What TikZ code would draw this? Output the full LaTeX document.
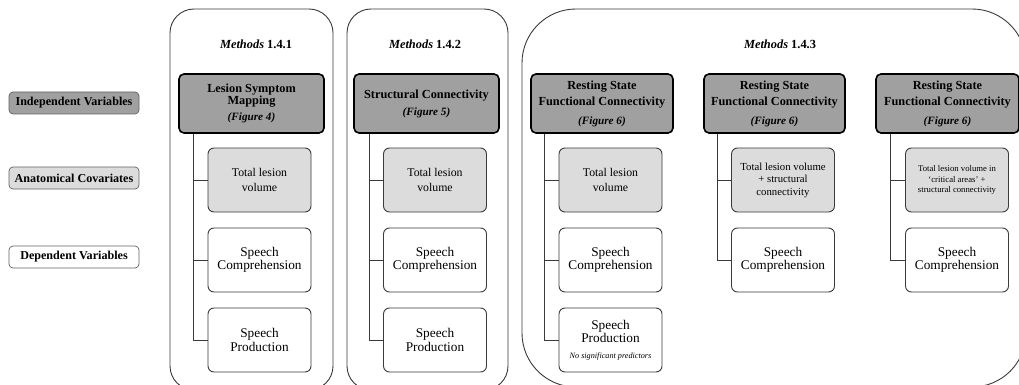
\documentclass[tikz,border=0pt]{standalone}
\usepackage{fontspec}
\setmainfont{Liberation Serif}
\definecolor{darkfill}{HTML}{A0A0A0}
\definecolor{lightfill}{HTML}{DCDCDC}
\definecolor{edgegray}{HTML}{3A3A3A}
\begin{document}
\begin{tikzpicture}[x=1pt,y=-1pt,
  panel/.style={draw=edgegray, line width=0.9pt},
  hdr/.style={draw=black, line width=1.6pt, fill=darkfill, rounded corners=5pt,
    minimum height=59pt, align=center, inner sep=0pt},
  cov/.style={draw=edgegray, line width=0.9pt, fill=lightfill, rounded corners=6pt,
    minimum width=103pt, minimum height=64pt, align=center, inner sep=0pt},
  dep/.style={draw=edgegray, line width=0.9pt, fill=white, rounded corners=6pt,
    minimum width=103pt, minimum height=64pt, align=center, inner sep=0pt,
    font=\rmfamily\fontsize{13.3}{13.3}\selectfont},
  leg/.style={draw=edgegray!80, line width=0.7pt, rounded corners=4pt,
    minimum width=130pt, minimum height=22pt, inner sep=0pt,
    font=\rmfamily\fontsize{12.1}{13}\selectfont\bfseries},
  meth/.style={font=\rmfamily\fontsize{12.4}{13}\selectfont\bfseries},
  conn/.style={draw=edgegray, line width=0.9pt}
]
\useasboundingbox (0,0) rectangle (1019,385);
\clip (0,0) rectangle (1019,385);
\fill[white] (0,0) rectangle (1019,385);

% legend
\node[leg, fill=darkfill] (l1) at (74,103) {Independent Variables};
\node[leg, fill=lightfill] (l2) at (74,178) {Anatomical Covariates};
\node[leg, fill=white] (l3) at (74,257) {Dependent Variables};

% panels
\draw[panel, rounded corners=24pt] (170,9) rectangle (333,390);
\draw[panel, rounded corners=24pt] (347,9) rectangle (508,390);
\draw[panel, rounded corners=54pt] (522,9) rectangle (1026,387);

\node[meth] (m1) at (256,44) {\textit{Methods} 1.4.1};
\node[meth] (m2) at (425,44) {\textit{Methods} 1.4.2};
\node[meth] (m3) at (780,44) {\textit{Methods} 1.4.3};

% Panel 1
\node[hdr, minimum width=145pt, font=\rmfamily\bfseries\fontsize{12.3}{10.5}\selectfont] (h1) at (251.5,103.5)
  {Lesion Symptom\\Mapping\\[6pt]{\fontsize{11.2}{12}\selectfont\itshape (Figure 4)}};
\node[cov, font=\rmfamily\fontsize{11.8}{14.7}\selectfont] (a1) at (259.5,180) {Total lesion\\volume};
\node[dep] (b1) at (259.5,260) {Speech\\Comprehension};
\node[dep] (c1) at (259.5,340) {Speech\\Production};
\path (h1.south west) ++(15,0) coordinate (v1);
\draw[conn] (v1) |- (a1.west);
\draw[conn] (v1) |- (b1.west);
\draw[conn] (v1) |- (c1.west);

% Panel 2
\node[hdr, minimum width=145pt, font=\rmfamily\bfseries\fontsize{12.3}{14}\selectfont] (h2) at (426.5,103.5)
  {Structural Connectivity\\[3pt]{\fontsize{11.2}{12}\selectfont\itshape (Figure 5)}};
\node[cov, font=\rmfamily\fontsize{11.8}{14.7}\selectfont] (a2) at (435,180) {Total lesion\\volume};
\node[dep] (b2) at (435,260) {Speech\\Comprehension};
\node[dep] (c2) at (435,340) {Speech\\Production};
\path (h2.south west) ++(16,0) coordinate (v2);
\draw[conn] (v2) |- (a2.west);
\draw[conn] (v2) |- (b2.west);
\draw[conn] (v2) |- (c2.west);

% Panel 3a
\node[hdr, minimum width=142pt, font=\rmfamily\bfseries\fontsize{12.3}{16}\selectfont] (h3) at (602,103.5)
  {Resting State\\Functional Connectivity\\[3pt]{\fontsize{11.2}{12}\selectfont\itshape (Figure 6)}};
\node[cov, font=\rmfamily\fontsize{11.8}{14.7}\selectfont] (a3) at (610.5,180) {Total lesion\\volume};
\node[dep] (b3) at (610.5,260) {Speech\\Comprehension};
\node[dep] (c3) at (610.5,340) {Speech\\Production\\[2pt]{\fontsize{8.2}{9}\selectfont\itshape No significant predictors}};
\path (h3.south west) ++(14,0) coordinate (v3);
\draw[conn] (v3) |- (a3.west);
\draw[conn] (v3) |- (b3.west);
\draw[conn] (v3) |- (c3.west);

% Panel 3b
\node[hdr, minimum width=141pt, font=\rmfamily\bfseries\fontsize{12.3}{16}\selectfont] (h4) at (774.5,103.5)
  {Resting State\\Functional Connectivity\\[3pt]{\fontsize{11.2}{12}\selectfont\itshape (Figure 6)}};
\node[cov, font=\rmfamily\fontsize{10.75}{12.5}\selectfont] (a4) at (783,180) {Total lesion volume\\+ structural\\connectivity};
\node[dep] (b4) at (783,260) {Speech\\Comprehension};
\path (h4.south west) ++(14,0) coordinate (v4);
\draw[conn] (v4) |- (a4.west);
\draw[conn] (v4) |- (b4.west);

% Panel 3c
\node[hdr, minimum width=143pt, font=\rmfamily\bfseries\fontsize{12.3}{16}\selectfont] (h5) at (947.5,103.5)
  {Resting State\\Functional Connectivity\\[3pt]{\fontsize{11.2}{12}\selectfont\itshape (Figure 6)}};
\node[cov, font=\rmfamily\fontsize{8.7}{10.7}\selectfont] (a5) at (957,180) {Total lesion volume in\\`critical areas' +\\structural connectivity};
\node[dep] (b5) at (957,260) {Speech\\Comprehension};
\path (h5.south west) ++(15,0) coordinate (v5);
\draw[conn] (v5) |- (a5.west);
\draw[conn] (v5) |- (b5.west);
\end{tikzpicture}
\end{document}
